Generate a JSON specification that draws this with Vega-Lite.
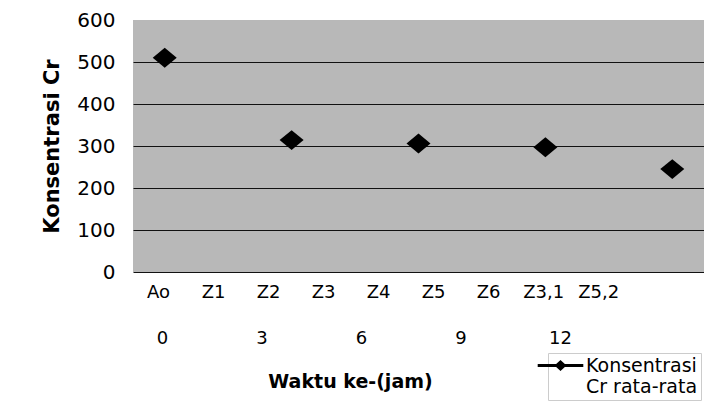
{
  "$schema": "https://vega.github.io/schema/vega-lite/v6.json",
  "autosize": "none",
  "width": 571,
  "height": 252,
  "padding": {"left": 133, "top": 20, "right": 0, "bottom": 140},
  "background": "white",
  "config": {
    "view": {"fill": "#b8b8b8", "stroke": null},
    "font": "DejaVu Sans"
  },
  "datasets": {
    "pengukuran": [
      {"kode": "Ao", "jam": 0, "cr": 510, "seri": "Konsentrasi Cr rata-rata"},
      {"kode": "Z2", "jam": 3, "cr": 314, "seri": "Konsentrasi Cr rata-rata"},
      {"kode": "Z4", "jam": 6, "cr": 306, "seri": "Konsentrasi Cr rata-rata"},
      {"kode": "Z6", "jam": 9, "cr": 297, "seri": "Konsentrasi Cr rata-rata"},
      {"kode": "Z5,2", "jam": 12, "cr": 245, "seri": "Konsentrasi Cr rata-rata"}
    ],
    "kategori": [
      {"kode": "Ao"}, {"kode": "Z1"}, {"kode": "Z2"}, {"kode": "Z3"}, {"kode": "Z4"},
      {"kode": "Z5"}, {"kode": "Z6"}, {"kode": "Z3,1"}, {"kode": "Z5,2"}
    ]
  },
  "layer": [
    {
      "data": {"name": "kategori"},
      "mark": {"type": "point", "opacity": 0},
      "encoding": {
        "x": {
          "field": "kode", "type": "nominal", "sort": null,
          "scale": {"type": "point", "domain": ["Ao", "Z1", "Z2", "Z3", "Z4", "Z5", "Z6", "Z3,1", "Z5,2", " "], "padding": 0.69, "align": 0.33},
          "axis": {"orient": "bottom", "title": null, "labelAngle": 0, "labelFontSize": 18, "labelColor": "black", "labelPadding": 11, "ticks": false, "domain": false, "grid": false}
        }
      }
    },
    {
      "data": {"name": "pengukuran"},
      "mark": {"type": "point", "opacity": 0},
      "encoding": {
        "x": {
          "field": "jam", "type": "quantitative",
          "scale": {"domain": [-0.874, 16.34], "nice": false, "zero": false},
          "axis": {"orient": "bottom", "values": [0, 3, 6, 9, 12], "grid": false, "ticks": false, "domain": false, "labelFlush": false, "labelFontSize": 18, "labelColor": "black", "labelPadding": 57, "title": "Waktu ke-(jam)", "titleFontSize": 19, "titleFontWeight": "bold", "titleColor": "black", "titlePadding": 25, "titleX": 217}
        }
      }
    },
    {
      "data": {"name": "pengukuran"},
      "mark": {"type": "point", "filled": true, "size": 576, "shape": "M-1,0L0,-0.83L1,0L0,0.83Z", "opacity": 1},
      "encoding": {
        "x": {
          "field": "kode", "type": "nominal",
          "scale": {"type": "point", "domain": ["Ao", "Z1", "Z2", "Z3", "Z4", "Z5", "Z6", "Z3,1", "Z5,2"], "padding": 0.5},
          "axis": null
        },
        "y": {
          "field": "cr", "type": "quantitative",
          "scale": {"domain": [0, 600], "nice": false},
          "axis": {"values": [0, 100, 200, 300, 400, 500, 600], "labelFontSize": 20, "labelColor": "black", "labelPadding": 18, "ticks": false, "domain": false, "gridColor": "#111111", "gridWidth": 1.2, "gridOpacity": {"condition": {"test": "datum.value == 600", "value": 0}, "value": 1}, "title": "Konsentrasi Cr", "titleFontSize": 21, "titleFontWeight": "bold", "titleColor": "black", "titlePadding": 14}
        },
        "color": {
          "field": "seri", "type": "nominal",
          "scale": {"range": ["black"]},
          "legend": {
            "title": null, "orient": "none", "legendX": 415, "legendY": 333,
            "padding": 3, "symbolType": "M-3.8,-0.25L3.8,-0.25L3.8,0.25L-3.8,0.25Z M-1,0L0,-0.9L1,0L0,0.9Z", "symbolSize": 144,
            "labelFontSize": 19, "labelColor": "black", "labelOffset": 16, "labelLimit": 300,
            "labelExpr": "['Konsentrasi', 'Cr rata-rata']",
            "strokeColor": "#cccccc",
            "encode": {
              "symbols": {"update": {"fill": {"value": "black"}, "stroke": {"value": "transparent"}}},
              "labels": {"update": {"lineHeight": {"value": 24}}},
              "legend": {"update": {"strokeDash": {"value": [4, 2]}}}
            }
          }
        }
      }
    }
  ],
  "resolve": {"scale": {"x": "independent"}, "axis": {"x": "independent"}}
}
